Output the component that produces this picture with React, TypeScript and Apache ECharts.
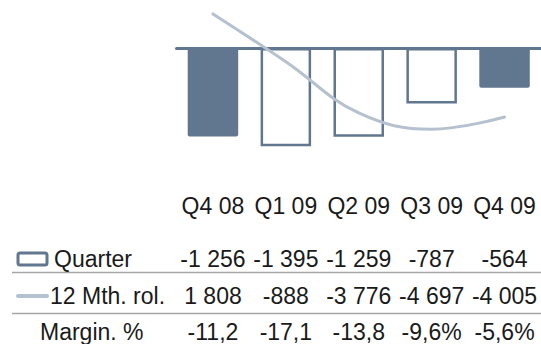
import React, { useEffect, useRef } from "react";
import * as echarts from "echarts";

const categories = ["Q4 08", "Q1 09", "Q2 09", "Q3 09", "Q4 09"];
const quarter = [-1256, -1395, -1259, -787, -564];
const rolling = [1808, -888, -3776, -4697, -4005];
const marginPct = ["-11,2", "-17,1", "-13,8", "-9,6%", "-5,6%"];
const filledBars = [true, false, false, false, true];
const rowLabels = ["Quarter", "12 Mth. rol.", "Margin. %"];

const BAR = "#61768f";
const LINE = "#b5c1cf";
const TEXT = "#1a1a1a";
const FONT = "'Liberation Sans', Arial, sans-serif";
const FS = 23;

function fmt(v: number): string {
  const s = Math.abs(v).toString().replace(/\B(?=(\d{3})+(?!\d))/g, " ");
  return (v < 0 ? "-" : "") + s;
}

const GRID_TOP = 12.75;
const GRID_H = 176.25;
const GRID_BOTTOM = GRID_TOP + GRID_H;

function rowAxis(data: string[], centerY: number) {
  return {
    type: "category",
    data,
    position: "bottom",
    gridIndex: 0,
    axisLine: { show: false, onZero: false },
    axisTick: { show: false },
    splitLine: { show: false },
    axisLabel: {
      show: true,
      interval: 0,
      margin: centerY - GRID_BOTTOM,
      verticalAlign: "middle",
      color: TEXT,
      fontSize: FS,
      fontFamily: FONT,
      hideOverlap: false,
    },
  };
}

export default function App() {
  const ref = useRef<HTMLDivElement>(null);
  useEffect(() => {
    if (!ref.current) return;
    const chart = echarts.init(ref.current, null, { renderer: "svg" });
    const option: any = {
      animation: false,
      backgroundColor: "#ffffff",
      grid: { left: 176.5, width: 368, top: GRID_TOP, height: GRID_H, containLabel: false },
      xAxis: [
        {
          type: "category",
          data: categories,
          axisLine: { show: true, onZero: true, lineStyle: { color: BAR, width: 3, cap: "round" } },
          axisTick: { show: false },
          axisLabel: { show: false },
        },
        rowAxis(categories, 206),
        rowAxis(quarter.map(fmt), 259),
        rowAxis(rolling.map(fmt), 296),
        rowAxis(marginPct, 332),
      ],
      yAxis: [
        { type: "value", min: -2000, max: 500, show: false, splitLine: { show: false } },
        { type: "value", min: -8065, max: 1875, show: false, splitLine: { show: false } },
      ],
      series: [
        {
          type: "bar",
          xAxisIndex: 0,
          yAxisIndex: 0,
          barWidth: 50.5,
          z: 2,
          data: quarter.map((v, i) => ({
            value: v,
            itemStyle: filledBars[i]
              ? { color: BAR, borderRadius: 2 }
              : { color: "#ffffff", borderColor: BAR, borderWidth: 2.5 },
          })),
        },
        {
          type: "line",
          xAxisIndex: 0,
          yAxisIndex: 1,
          data: rolling,
          smooth: 0.4,
          showSymbol: false,
          symbol: "none",
          z: 5,
          lineStyle: { color: LINE, width: 3, cap: "round" },
        },
      ],
      graphic: [
        { type: "line", shape: { x1: 12, y1: 272.5, x2: 541, y2: 272.5 }, style: { stroke: "#a6a6a6", lineWidth: 1.5 } },
        { type: "line", shape: { x1: 12, y1: 313.5, x2: 541, y2: 313.5 }, style: { stroke: "#a6a6a6", lineWidth: 1.5 } },
        { type: "rect", shape: { x: 18, y: 253, width: 29, height: 12, r: 2 }, style: { fill: "#ffffff", stroke: BAR, lineWidth: 3 } },
        { type: "line", shape: { x1: 18, y1: 296, x2: 47, y2: 296 }, style: { stroke: LINE, lineWidth: 4, lineCap: "round" } },
        { type: "text", x: 54, y: 259, style: { text: rowLabels[0], fill: TEXT, font: `${FS}px ${FONT}`, verticalAlign: "middle" } },
        { type: "text", x: 50, y: 296, style: { text: rowLabels[1], fill: TEXT, font: `${FS}px ${FONT}`, verticalAlign: "middle" } },
        { type: "text", x: 40, y: 332, style: { text: rowLabels[2], fill: TEXT, font: `${FS}px ${FONT}`, verticalAlign: "middle" } },
      ],
    };
    chart.setOption(option);
    return () => chart.dispose();
  }, []);
  return (
    <div
      ref={ref}
      style={{ position: "absolute", left: 0, top: 0, width: 541, height: 344, background: "#fff" }}
    />
  );
}
